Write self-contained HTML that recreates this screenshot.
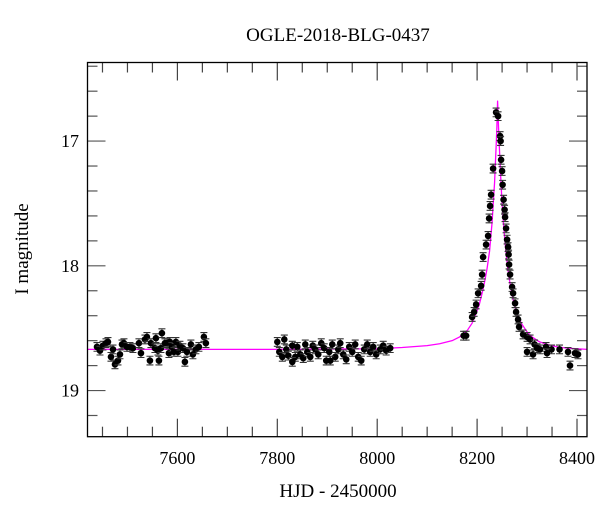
<!DOCTYPE html>
<html><head><meta charset="utf-8"><style>
body{margin:0;background:#fff}
svg{display:block;font-family:"Liberation Serif",serif}
</style></head><body>
<svg id="chart" width="600" height="512" xmlns="http://www.w3.org/2000/svg">
<text x="338" y="41" font-size="19" text-anchor="middle">OGLE-2018-BLG-0437</text>
<text x="338" y="497" font-size="19" text-anchor="middle">HJD - 2450000</text>
<text transform="translate(28,249) rotate(-90)" font-size="19" text-anchor="middle">I magnitude</text>
<g id="ticks"></g>
<g id="model"></g>
<g id="points"></g>
<rect x="87.5" y="62.5" width="499.5" height="374.2" fill="none" stroke="#000" stroke-width="1.3"/>
</svg>
<script>
const xTickLabels=[7600,7800,8000,8200,8400];
const yTickLabels=[17,18,19];
const obsTime=[7439,7445,7451,7457,7461,7467,7471,7475,7481,7485,7489,7493,7499,7505,7511,7523,7527,7535,7539,7547,7545,7555,7557,7561,7563,7567,7569,7575,7579,7583,7585,7589,7593,7597,7601,7605,7611,7615,7619,7627,7631,7637,7643,7653,7657,
7800,7804,7810,7814,7818,7822,7830,7836,7840,7846,7852,7856,7860,7866,7871,7876,7882,7888,7894,7898,7904,7910,7916,7922,7926,7932,7938,7944,7950,7956,7962,7968,7974,7980,7986,7992,7998,8006,8012,8018,8026,7830,7906,
8173,8178,8190,8194,8198,8202,8208,8210,8212,8218,8222,8224,8226,8228,8232,8238,8242,8246,8247,8248,8250,8251,8253,8255,8256,8258,8260,8262,8263,8264,8266,8270,8272,8276,8278,8282,8284,8292,8300,8306,8315,8326,8338,8349,8365,8382,8386,8396,8402,8300,8312,8320,8340];
const obsMag=[18.65,18.68,18.64,18.62,18.61,18.73,18.67,18.79,18.76,18.71,18.63,18.62,18.65,18.65,18.66,18.62,18.70,18.59,18.57,18.62,18.76,18.66,18.58,18.68,18.76,18.66,18.54,18.62,18.62,18.70,18.61,18.65,18.69,18.61,18.69,18.64,18.66,18.77,18.69,18.63,18.71,18.67,18.65,18.57,18.62,
18.61,18.69,18.73,18.59,18.67,18.72,18.64,18.73,18.65,18.71,18.74,18.63,18.69,18.73,18.64,18.67,18.71,18.62,18.66,18.76,18.69,18.63,18.73,18.67,18.62,18.71,18.75,18.65,18.69,18.63,18.73,18.76,18.67,18.63,18.69,18.65,18.71,18.67,18.64,18.68,18.66,18.77,18.76,
18.56,18.56,18.41,18.37,18.31,18.22,18.16,18.07,17.93,17.83,17.76,17.62,17.52,17.43,17.22,16.77,16.80,16.96,17.00,17.15,17.24,17.35,17.47,17.55,17.61,17.70,17.79,17.85,17.91,17.99,18.07,18.17,18.22,18.30,18.37,18.43,18.49,18.55,18.57,18.59,18.63,18.67,18.65,18.67,18.67,18.69,18.80,18.70,18.71,18.69,18.71,18.66,18.70];
const modelTime=[7420,7800,8000,8050,8100,8125,8150,8165,8180,8190,8200,8205,8210,8215,8220,8225,8230,8232,8235,8236,8238,8239.5,8241,8242.5,8244,8246,8248,8250,8252,8255,8258,8261,8265,8270,8275,8282,8290,8300,8310,8325,8340,8360,8380,8420];
const modelMag=[18.67,18.67,18.665,18.655,18.64,18.625,18.60,18.57,18.52,18.46,18.36,18.30,18.22,18.13,18.02,17.88,17.65,17.52,17.33,17.23,17.05,16.90,16.68,16.85,17.00,17.18,17.35,17.50,17.62,17.77,17.90,18.01,18.12,18.23,18.32,18.41,18.47,18.53,18.57,18.61,18.63,18.65,18.66,18.67];
const X0=87.5,X1=587,Y0=62.5,Y1=436.7,T0=7420,T1=8420,M0=16.37,M1=19.37;
const xs=t=>X0+(t-T0)/(T1-T0)*(X1-X0);
const ys=m=>Y0+(m-M0)/(M1-M0)*(Y1-Y0);
const NS='http://www.w3.org/2000/svg';
function mk(tag,attrs,parent){const e=document.createElementNS(NS,tag);for(const k in attrs)e.setAttribute(k,attrs[k]);parent.appendChild(e);return e;}
const tg=document.getElementById('ticks');
for(let t=7450;t<=8400;t+=50){const major=t%200===0;const L=major?18:10;const x=xs(t);
 const a=mk('line',{x1:x,x2:x,y1:Y1,y2:Y1-L,stroke:'#444','stroke-width':1.2},tg);
 
 
 const b=mk('line',{x1:x,x2:x,y1:Y0,y2:Y0+L,stroke:'#444','stroke-width':1.2},tg);
 
 }
xTickLabels.forEach(v=>{const e=mk('text',{x:xs(v),y:464,'font-size':18,'text-anchor':'middle'},tg);e.textContent=v;
 
 });
for(let i=0;i<15;i++){const m=16.4+i*0.2;const major=Math.abs(m-Math.round(m))<1e-6;const L=major?18:10;const y=ys(m);
 const a=mk('line',{x1:X0,x2:X0+L,y1:y,y2:y,stroke:'#555','stroke-width':1.2},tg);
 
 
 const b=mk('line',{x1:X1,x2:X1-L,y1:y,y2:y,stroke:'#555','stroke-width':1.2},tg);
 
 }
yTickLabels.forEach(v=>{const e=mk('text',{x:79,y:ys(v)+6,'font-size':18,'text-anchor':'end'},tg);e.textContent=v;
 
 });
const mg=document.getElementById('model');
const p=mk('polyline',{points:modelTime.map((t,i)=>xs(t)+','+ys(modelMag[i])).join(' '),fill:'none',stroke:'#ff00ff','stroke-width':1.3,'stroke-linejoin':'round'},mg);


const pg=document.getElementById('points');
const err=0.035;
obsTime.forEach((t,i)=>{const x=xs(t),y=ys(obsMag[i]);const ya=ys(obsMag[i]-err),yb=ys(obsMag[i]+err);
 const g=mk('g',{},pg);
 
 
 mk('path',{d:`M${x},${ya}V${yb}M${x-3.5},${ya}H${x+3.5}M${x-3.5},${yb}H${x+3.5}`,stroke:'#333','stroke-width':1.1,fill:'none'},g);
 mk('circle',{cx:x,cy:y,r:3.3,fill:'#000'},g);});
</script>
</body></html>
